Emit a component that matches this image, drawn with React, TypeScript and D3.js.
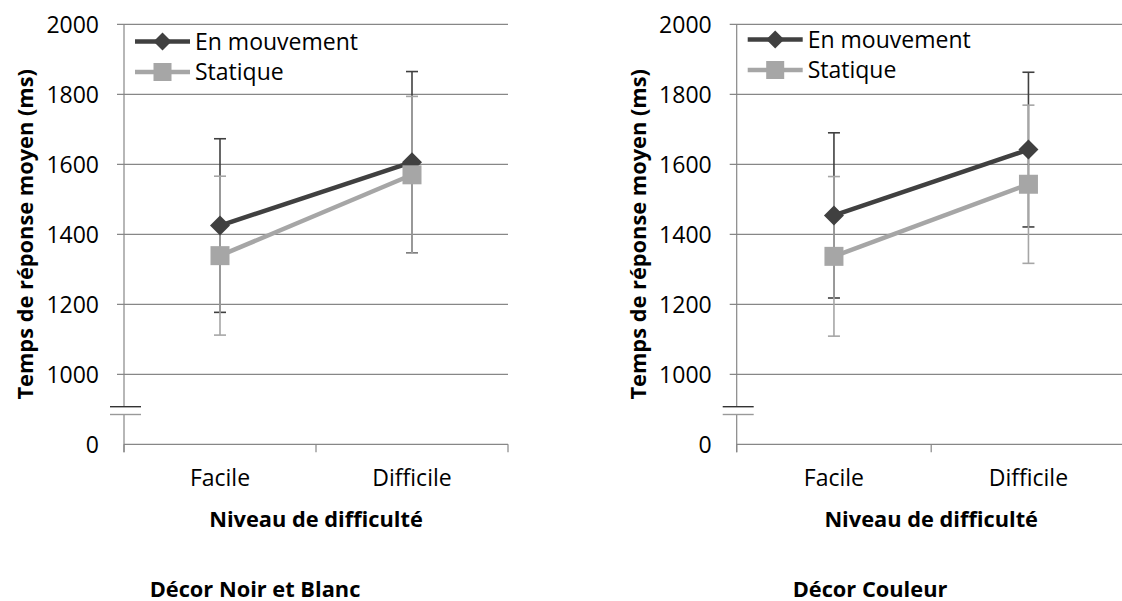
import React from "react";
import * as d3 from "d3";

// ---- data ----
const categories = ["Facile", "Difficile"];
const seriesNames = ["En mouvement", "Statique"];
// y axis: broken axis, bottom tick shows "0" at the domain minimum
const yTickValues = [800, 1000, 1200, 1400, 1600, 1800, 2000];
const yTickLabels = ["0", "1000", "1200", "1400", "1600", "1800", "2000"];

// Décor Noir et Blanc
const nbMouvement = [1425, 1606];
const nbMouvementErr = [248, 259];
const nbStatique = [1339, 1570];
const nbStatiqueErr = [227, 224];

// Décor Couleur
const coulMouvement = [1454, 1642];
const coulMouvementErr = [236, 221];
const coulStatique = [1337, 1543];
const coulStatiqueErr = [228, 226];

const panelTitles = ["Décor Noir et Blanc", "Décor Couleur"];
const xAxisTitle = "Niveau de difficulté";
const yAxisTitle = "Temps de réponse moyen (ms)";

// ---- styles ----
const DARK = "#404040";
const LIGHT = "#A6A6A6";
const GRID = "#878787";
const FONT = "'Open Sans', 'Liberation Sans', sans-serif";
const FS = 23;
const FSB = 21.8;

type PanelProps = {
  axisX: number;
  width: number;
  mouv: number[];
  mouvErr: number[];
  stat: number[];
  statErr: number[];
  title: string;
  titleX: number;
  legendY: number;
};

function Panel({ axisX, width, mouv, mouvErr, stat, statErr, title, titleX, legendY }: PanelProps) {
  const top = 24.3;
  const bottom = 444.3;
  const y = d3.scaleLinear().domain([800, 2000]).range([bottom, top]);
  const x = d3.scaleBand().domain(categories).range([axisX, axisX + width]);
  const cx = (c: string) => (x(c) as number) + x.bandwidth() / 2;
  const right = axisX + width;
  const breakY1 = 406.7;
  const breakY2 = 414.5;

  const line = d3
    .line<number>()
    .x((_, i) => cx(categories[i]))
    .y((d) => y(d));

  const series = [
    { vals: mouv, err: mouvErr, color: DARK, marker: "diamond" },
    { vals: stat, err: statErr, color: LIGHT, marker: "square" },
  ];

  const marker = (kind: string, px: number, py: number, color: string, s: number) =>
    kind === "diamond" ? (
      <path
        d={`M${px},${py - s / 2}L${px + s / 2},${py}L${px},${py + s / 2}L${px - s / 2},${py}Z`}
        fill={color}
      />
    ) : (
      <rect x={px - s / 2} y={py - s / 2} width={s} height={s} fill={color} />
    );

  return (
    <g fontFamily={FONT}>
      {/* gridlines */}
      {yTickValues.slice(1).map((v) => (
        <line key={v} x1={axisX - 7} x2={right} y1={y(v)} y2={y(v)} stroke={GRID} strokeWidth={1.2} />
      ))}
      {/* y axis with break */}
      <line x1={axisX} x2={axisX} y1={top} y2={breakY1} stroke={GRID} strokeWidth={1.2} />
      <line x1={axisX} x2={axisX} y1={breakY2} y2={bottom + 8} stroke={GRID} strokeWidth={1.2} />
      <line x1={axisX - 14} x2={axisX + 17} y1={breakY1} y2={breakY1} stroke="#333333" strokeWidth={1.4} />
      <line x1={axisX - 14} x2={axisX + 17} y1={breakY2} y2={breakY2} stroke="#999999" strokeWidth={1.4} />
      {/* x axis */}
      <line x1={axisX} x2={right} y1={bottom} y2={bottom} stroke={GRID} strokeWidth={1.2} />
      {[axisX, axisX + x.bandwidth(), right].map((tx, i) => (
        <line key={i} x1={tx} x2={tx} y1={bottom} y2={bottom + 8} stroke={GRID} strokeWidth={1.2} />
      ))}
      {/* y tick labels */}
      {yTickValues.map((v, i) => (
        <text key={v} x={axisX - 25} y={y(v)} dy="0.36em" textAnchor="end" fontSize={FS} fill="#000">
          {yTickLabels[i]}
        </text>
      ))}
      {/* x tick labels */}
      {categories.map((c) => (
        <text key={c} x={cx(c)} y={486} textAnchor="middle" fontSize={FS} fill="#000">
          {c}
        </text>
      ))}
      {/* axis titles */}
      <text
        x={axisX + width / 2}
        y={527}
        textAnchor="middle"
        fontSize={FSB}
        fontWeight="bold"
        fill="#000"
      >
        {xAxisTitle}
      </text>
      <text
        transform={`translate(${axisX - 91},${(top + bottom) / 2}) rotate(-90)`}
        textAnchor="middle"
        fontSize={FSB}
        fontWeight="bold"
        fill="#000"
      >
        {yAxisTitle}
      </text>
      {/* error bars */}
      {series.map((s, si) => (
        <g key={si} stroke={s.color} strokeWidth={1.6}>
          {s.vals.map((v, i) => {
            const px = cx(categories[i]);
            const hi = y(v + s.err[i]);
            const lo = y(v - s.err[i]);
            return (
              <g key={i}>
                <line x1={px} x2={px} y1={hi} y2={lo} />
                <line x1={px - 6} x2={px + 6} y1={hi} y2={hi} />
                <line x1={px - 6} x2={px + 6} y1={lo} y2={lo} />
              </g>
            );
          })}
        </g>
      ))}
      {/* lines + markers */}
      {series.map((s, si) => (
        <g key={si}>
          <path d={line(s.vals) || ""} fill="none" stroke={s.color} strokeWidth={4.5} />
          {s.vals.map((v, i) => (
            <g key={i}>{marker(s.marker, cx(categories[i]), y(v), s.color, s.marker === "diamond" ? 20 : 19)}</g>
          ))}
        </g>
      ))}
      {/* legend */}
      {series.map((s, si) => {
        const ly = legendY + si * 30.5;
        return (
          <g key={si}>
            <line x1={axisX + 11} x2={axisX + 66} y1={ly} y2={ly} stroke={s.color} strokeWidth={4.5} />
            {marker(s.marker, axisX + 38.5, ly, s.color, 18)}
            <text x={axisX + 71} y={ly} dy="0.36em" fontSize={FS} fill="#000">
              {seriesNames[si]}
            </text>
          </g>
        );
      })}
      {/* panel title */}
      <text x={titleX} y={596.5} textAnchor="middle" fontSize={FSB} fontWeight="bold" fill="#000">
        {title}
      </text>
    </g>
  );
}

export default function App() {
  return (
    <svg
      width={1122}
      height={601}
      style={{ position: "absolute", left: 0, top: 0, background: "#fff" }}
    >
      <rect width={1122} height={601} fill="#fff" />
      <Panel
        axisX={124}
        width={384}
        mouv={nbMouvement}
        mouvErr={nbMouvementErr}
        stat={nbStatique}
        statErr={nbStatiqueErr}
        title={panelTitles[0]}
        titleX={255}
        legendY={41.5}
      />
      <Panel
        axisX={736.7}
        width={389}
        mouv={coulMouvement}
        mouvErr={coulMouvementErr}
        stat={coulStatique}
        statErr={coulStatiqueErr}
        title={panelTitles[1]}
        titleX={870}
        legendY={39.5}
      />
    </svg>
  );
}
